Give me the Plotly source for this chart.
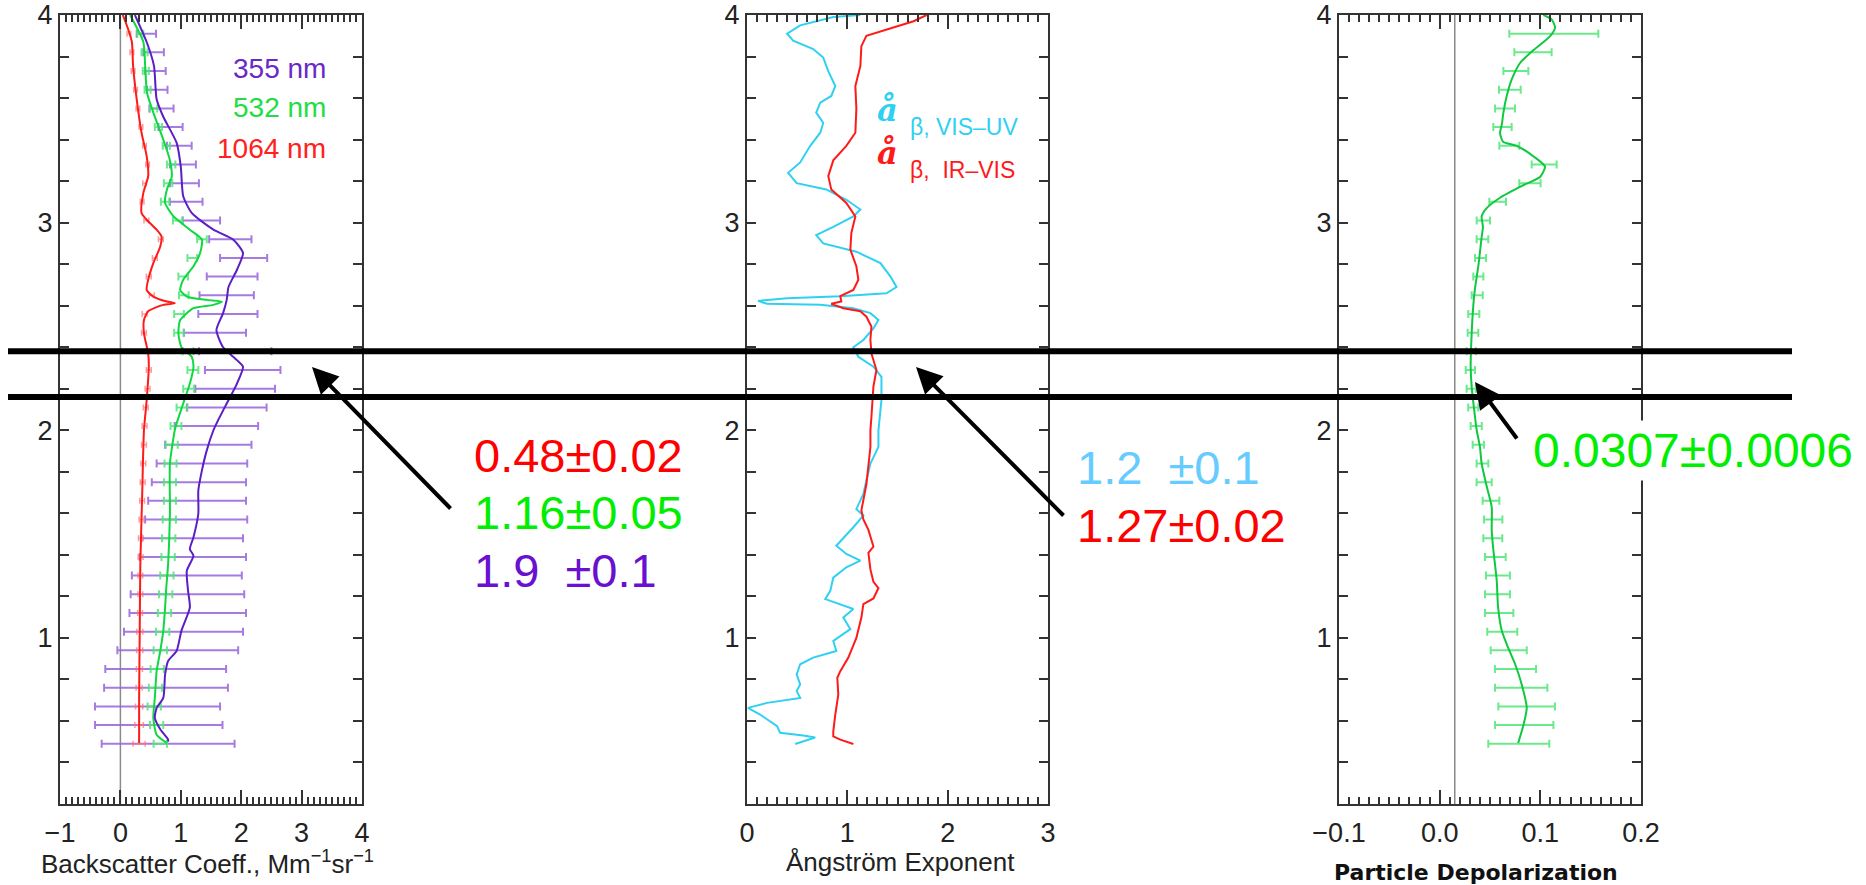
import plotly.graph_objects as go

W, H = 1866, 885

# ---------------- data ----------------
# Left panel: backscatter profiles (altitude km, value Mm^-1 sr^-1)
b355_alt = [0.50, 0.51, 0.56, 0.615, 0.663, 0.711, 0.824, 0.889, 0.937, 1.034, 1.147, 1.227, 1.324, 1.396, 1.428,
            1.485, 1.598, 1.71, 1.807, 1.903, 2.0, 2.032, 2.129, 2.225, 2.306, 2.338, 2.40, 2.483, 2.564, 2.628,
            2.69, 2.773, 2.854, 2.918, 2.966, 3.047, 3.127, 3.27, 3.385, 3.51, 3.594, 3.755, 3.87, 4.0]
b355_val = [0.79, 0.79, 0.66, 0.57, 0.60, 0.71, 0.74, 0.79, 0.93, 1.01, 1.15, 1.12, 1.10, 1.21, 1.15,
            1.21, 1.29, 1.29, 1.35, 1.43, 1.54, 1.59, 1.76, 1.93, 2.03, 1.93, 1.70, 1.59, 1.70, 1.76,
            1.79, 1.93, 2.03, 1.87, 1.54, 1.18, 1.04, 1.00, 0.93, 0.71, 0.60, 0.556, 0.435, 0.24]

b532_alt = [0.494, 0.534, 0.615, 0.711, 0.84, 0.937, 1.034, 1.147, 1.243, 1.356, 1.60, 1.84, 2.0, 2.032, 2.129,
            2.225, 2.306, 2.354, 2.40, 2.467, 2.531, 2.588, 2.604, 2.62, 2.628, 2.644, 2.676, 2.725, 2.79, 2.854,
            2.918, 2.966, 3.03, 3.095, 3.16, 3.22, 3.30, 3.40, 3.53, 3.627, 3.755, 3.87, 4.0]
b532_val = [0.77, 0.60, 0.545, 0.57, 0.60, 0.66, 0.71, 0.74, 0.76, 0.79, 0.82, 0.82, 0.90, 0.93, 1.04,
            1.15, 1.21, 1.18, 1.01, 0.96, 0.99, 1.21, 1.54, 1.68, 1.43, 1.10, 0.99, 1.04, 1.21, 1.32,
            1.35, 1.15, 0.88, 0.74, 0.77, 0.85, 0.82, 0.71, 0.545, 0.44, 0.41, 0.38, 0.16]

b1064_alt = [0.494, 0.711, 1.034, 1.356, 1.68, 2.0, 2.145, 2.306, 2.37, 2.467, 2.531, 2.573, 2.604, 2.612, 2.62,
             2.644, 2.676, 2.725, 2.805, 2.885, 2.934, 2.966, 3.014, 3.046, 3.143, 3.224, 3.32, 3.433, 3.594,
             3.755, 3.87, 3.93, 4.0]
b1064_val = [0.31, 0.31, 0.32, 0.33, 0.36, 0.39, 0.435, 0.47, 0.46, 0.39, 0.39, 0.46, 0.71, 0.90, 0.77,
             0.545, 0.435, 0.46, 0.545, 0.66, 0.68, 0.60, 0.435, 0.35, 0.38, 0.46, 0.435, 0.35, 0.27,
             0.21, 0.19, 0.13, 0.04]

# error-bar altitudes (shared by all error-bar series)
bar_alt = [0.49, 0.58, 0.67, 0.76, 0.85, 0.94, 1.03, 1.12, 1.21, 1.30, 1.39, 1.48, 1.57, 1.66, 1.75, 1.84, 1.93,
           2.02, 2.11, 2.20, 2.29, 2.38, 2.47, 2.56, 2.65, 2.74, 2.83, 2.92, 3.01, 3.10, 3.19, 3.28, 3.37, 3.46,
           3.55, 3.64, 3.73, 3.82, 3.91]
bar355_c = [0.79, 0.635, 0.615, 0.755, 0.75, 0.95, 1.045, 1.115, 1.11, 1.10, 1.20, 1.19, 1.255, 1.27, 1.30, 1.35,
            1.455, 1.59, 1.76, 1.90, 2.025, 1.90, 1.565, 1.78, 1.76, 1.85, 2.04, 1.82, 1.34, 1.09, 1.06, 1.035,
            0.975, 0.83, 0.68, 0.61, 0.58, 0.55, 0.43]
bar355_e = [1.10, 1.055, 1.035, 1.025, 1.00, 1.00, 0.985, 0.965, 0.94, 0.91, 0.88, 0.84, 0.845, 0.81, 0.78, 0.75,
            0.715, 0.69, 0.66, 0.66, 0.625, 0.60, 0.515, 0.49, 0.45, 0.42, 0.39, 0.35, 0.31, 0.27, 0.24, 0.215,
            0.205, 0.20, 0.20, 0.17, 0.17, 0.17, 0.16]
bar532_c = [0.66, 0.60, 0.56, 0.58, 0.61, 0.66, 0.70, 0.73, 0.75, 0.77, 0.79, 0.80, 0.81, 0.82, 0.82, 0.83, 0.85,
            0.92, 1.02, 1.13, 1.20, 1.12, 0.97, 0.97, 1.05, 1.04, 1.19, 1.35, 0.95, 0.74, 0.79, 0.84, 0.76, 0.63,
            0.55, 0.45, 0.42, 0.40, 0.33]
bar532_e = [0.11, 0.11, 0.11, 0.11, 0.11, 0.11, 0.11, 0.11, 0.11, 0.11, 0.11, 0.11, 0.11, 0.10, 0.10, 0.10, 0.10,
            0.09, 0.09, 0.09, 0.09, 0.09, 0.08, 0.08, 0.08, 0.08, 0.08, 0.08, 0.08, 0.07, 0.07, 0.07, 0.06, 0.06,
            0.06, 0.05, 0.05, 0.05, 0.05]
bar1064_c = [0.31, 0.31, 0.31, 0.31, 0.315, 0.32, 0.32, 0.325, 0.33, 0.33, 0.335, 0.34, 0.35, 0.36, 0.37, 0.38,
             0.39, 0.40, 0.42, 0.45, 0.47, 0.46, 0.39, 0.40, 0.52, 0.47, 0.57, 0.67, 0.43, 0.36, 0.40, 0.45, 0.40,
             0.34, 0.29, 0.25, 0.21, 0.19, 0.14]
bar1064_e = [0.10, 0.07, 0.06, 0.05, 0.05, 0.05, 0.05, 0.04, 0.04, 0.04, 0.04, 0.04, 0.04, 0.04, 0.04, 0.04, 0.04,
             0.04, 0.04, 0.04, 0.04, 0.04, 0.04, 0.04, 0.04, 0.04, 0.04, 0.04, 0.04, 0.03, 0.03, 0.03, 0.03, 0.03,
             0.03, 0.03, 0.03, 0.03, 0.03]

# Middle panel: Angstrom exponents
ang_uv_alt = [0.489, 0.506, 0.52, 0.53, 0.543, 0.575, 0.631, 0.663, 0.687, 0.711, 0.744, 0.776, 0.824, 0.873,
              0.905, 0.937, 0.985, 1.042, 1.098, 1.139, 1.163, 1.187, 1.227, 1.29, 1.34, 1.372, 1.404, 1.444,
              1.533, 1.59, 1.62, 1.694, 1.758, 1.84, 1.92, 2.0, 2.145, 2.257, 2.306, 2.354, 2.40, 2.435, 2.49,
              2.531, 2.564, 2.588, 2.604, 2.609, 2.623, 2.636, 2.646, 2.66, 2.69, 2.74, 2.805, 2.86, 2.90, 2.94,
              2.98, 3.03, 3.063, 3.11, 3.16, 3.19, 3.24, 3.29, 3.37, 3.433, 3.48, 3.53, 3.578, 3.61, 3.658, 3.73,
              3.795, 3.836, 3.876, 3.91, 3.95, 3.99, 4.0]
ang_uv_val = [0.48, 0.59, 0.68, 0.56, 0.33, 0.30, 0.13, 0.01, 0.20, 0.53, 0.495, 0.53, 0.495, 0.53,
              0.66, 0.89, 0.86, 1.03, 0.96, 1.06, 0.93, 0.78, 0.83, 0.86, 0.99, 1.13, 0.99, 0.89,
              1.06, 1.16, 1.09, 1.16, 1.19, 1.23, 1.31, 1.31, 1.34, 1.34, 1.26, 1.11, 1.06, 1.16, 1.26,
              1.31, 1.23, 1.06, 0.73, 0.20, 0.11, 0.40, 0.93, 1.39, 1.49, 1.43, 1.33, 1.09, 0.76, 0.69,
              0.86, 1.06, 1.13, 0.99, 0.79, 0.495, 0.41, 0.53, 0.63, 0.73, 0.76, 0.69, 0.73, 0.84, 0.88, 0.81,
              0.76, 0.66, 0.46, 0.40, 0.53, 0.86, 1.13]
ang_ir_alt = [0.489, 0.51, 0.526, 0.55, 0.631, 0.728, 0.808, 0.84, 0.905, 1.00, 1.098, 1.163, 1.19, 1.24, 1.27,
              1.33, 1.41, 1.44, 1.52, 1.57, 1.614, 1.74, 1.92, 2.0, 2.064, 2.21, 2.29, 2.37, 2.435, 2.50, 2.547,
              2.573, 2.588, 2.609, 2.62, 2.646, 2.676, 2.725, 2.79, 2.87, 2.95, 3.03, 3.095, 3.16, 3.224, 3.30,
              3.37, 3.433, 3.55, 3.658, 3.755, 3.85, 3.90, 3.93, 3.97, 4.0]
ang_ir_val = [1.06, 0.93, 0.86, 0.86, 0.88, 0.91, 0.90, 0.93, 1.01, 1.09, 1.14, 1.16, 1.26, 1.31, 1.26,
              1.23, 1.21, 1.26, 1.21, 1.16, 1.14, 1.19, 1.23, 1.23, 1.24, 1.26, 1.29, 1.24, 1.23, 1.24, 1.19,
              1.13, 0.96, 0.84, 0.94, 0.93, 1.06, 1.11, 1.09, 1.03, 1.04, 1.08, 0.99, 0.84, 0.81, 0.86,
              0.99, 1.08, 1.09, 1.08, 1.13, 1.14, 1.19, 1.39, 1.66, 1.79]

# Right panel: particle depolarization at 532 nm
dep_alt = [0.494, 0.582, 0.663, 0.776, 0.873, 0.953, 1.034, 1.15, 1.275, 1.44, 1.52, 1.63, 1.73, 1.84, 1.92, 2.0,
           2.064, 2.21, 2.306, 2.467, 2.60, 2.68, 2.79, 2.93, 2.98, 3.03, 3.07, 3.12, 3.18, 3.22, 3.27, 3.32,
           3.37, 3.39, 3.43, 3.48, 3.53, 3.61, 3.69, 3.77, 3.83, 3.90, 3.94, 3.98, 4.0]
dep_val = [0.078, 0.0833, 0.0865, 0.0815, 0.075, 0.068, 0.0617, 0.058, 0.0567, 0.053, 0.0517, 0.0517, 0.0467,
           0.0417, 0.040, 0.0368, 0.0351, 0.0318, 0.0308, 0.0318, 0.0334, 0.035, 0.0384, 0.0417, 0.043, 0.0417,
           0.0467, 0.060, 0.083, 0.0997, 0.1046, 0.093, 0.0765, 0.063, 0.060, 0.062, 0.0633, 0.0666, 0.0716,
           0.080, 0.093, 0.110, 0.1146, 0.111, 0.103]
dep_bar_c = [0.0786, 0.084, 0.0864, 0.081, 0.0753, 0.0686, 0.0622, 0.0591, 0.0574, 0.0579, 0.0553, 0.0528, 0.0532,
             0.051, 0.0442, 0.0425, 0.0384, 0.0363, 0.0334, 0.0314, 0.0305, 0.0314, 0.0331, 0.0339, 0.0373,
             0.0384, 0.0406, 0.0425, 0.0434, 0.0576, 0.0897, 0.1038, 0.0692, 0.0624, 0.0649, 0.0697, 0.0757,
             0.0927, 0.1134]
dep_bar_e = [0.0303, 0.029, 0.0281, 0.026, 0.0204, 0.0179, 0.0149, 0.0141, 0.0124, 0.0119, 0.0103, 0.0094,
             0.0091, 0.0083, 0.0075, 0.0058, 0.0056, 0.0055, 0.005, 0.0046, 0.0046, 0.0046, 0.0053, 0.0055,
             0.0055, 0.005, 0.0055, 0.0058, 0.0066, 0.0083, 0.0106, 0.0124, 0.0099, 0.0091, 0.0099, 0.0108,
             0.0124, 0.0185, 0.0442]

layer_alt = [2.16, 2.38]

# ---------------- styling ----------------
C_PUR, C_PUR_BAR = "#5a1ec4", "rgba(150,100,220,0.85)"
C_GRN, C_GRN_BAR = "#10d840", "rgba(80,230,120,0.85)"
C_RED, C_RED_BAR = "#ff1a1a", "rgba(255,110,110,0.7)"
C_CYAN = "#30d0f2"
FONT = "Liberation Sans"
AX = "#333333"


def px(x):
    return x / W


def py(y):
    return 1 - y / H


fig = go.Figure()


def errtrace(x, y, e, color, xa, ya, thick=2, width=4):
    return go.Scatter(x=x, y=y, mode="markers", marker=dict(size=1, color="rgba(0,0,0,0)"),
                      error_x=dict(type="data", array=e, symmetric=True, color=color,
                                   thickness=thick, width=width),
                      xaxis=xa, yaxis=ya, showlegend=False, hoverinfo="skip")


def line(x, y, color, xa, ya, w=2):
    return go.Scatter(x=x, y=y, mode="lines", line=dict(color=color, width=w, shape="spline", smoothing=0.6),
                      xaxis=xa, yaxis=ya, showlegend=False)


# left panel
fig.add_trace(errtrace(bar355_c, bar_alt, bar355_e, C_PUR_BAR, "x", "y"))
fig.add_trace(errtrace(bar532_c, bar_alt, bar532_e, C_GRN_BAR, "x", "y"))
fig.add_trace(errtrace(bar1064_c, bar_alt, bar1064_e, C_RED_BAR, "x", "y", thick=1.5, width=3))
fig.add_trace(line(b1064_val, b1064_alt, C_RED, "x", "y"))
fig.add_trace(line(b532_val, b532_alt, C_GRN, "x", "y"))
fig.add_trace(line(b355_val, b355_alt, C_PUR, "x", "y"))
# middle panel
fig.add_trace(go.Scatter(x=ang_uv_val, y=ang_uv_alt, mode="lines", line=dict(color=C_CYAN, width=2),
                         xaxis="x2", yaxis="y2", showlegend=False))
fig.add_trace(go.Scatter(x=ang_ir_val, y=ang_ir_alt, mode="lines", line=dict(color=C_RED, width=2),
                         xaxis="x2", yaxis="y2", showlegend=False))
# right panel
fig.add_trace(errtrace(dep_bar_c, bar_alt, dep_bar_e, C_GRN_BAR, "x3", "y3"))
fig.add_trace(line(dep_val, dep_alt, "#10c840", "x3", "y3"))

ydom = [py(804), py(15)]
common = dict(showline=True, linecolor=AX, linewidth=2, mirror="allticks", ticks="inside",
              tickcolor=AX, tickwidth=2, showgrid=False, zeroline=False, automargin=False,
              tickfont=dict(family=FONT, size=27, color="#222"))
xcommon = dict(common, ticklen=14, ticklabelstandoff=4,
               minor=dict(ticks="inside", ticklen=7, tickwidth=1.5, tickcolor=AX))
ycommon = dict(common, ticklen=9, range=[0.2, 4.0], tickvals=[1, 2, 3, 4], domain=ydom,
               minor=dict(ticks="inside", ticklen=9, tickwidth=1.5, tickcolor=AX, dtick=0.2, tick0=0))

fig.update_layout(
    width=W, height=H, margin=dict(l=0, r=0, t=0, b=0, autoexpand=False),
    paper_bgcolor="white", plot_bgcolor="white", showlegend=False,
    xaxis=dict(xcommon, domain=[px(60), px(362)], range=[-1, 4], dtick=1, tick0=-1, anchor="y",
               minor=dict(xcommon["minor"], dtick=0.1, tick0=0)),
    yaxis=dict(ycommon, anchor="x"),
    xaxis2=dict(xcommon, domain=[px(747), px(1048)], range=[0, 3], dtick=1, tick0=0, anchor="y2",
                minor=dict(xcommon["minor"], dtick=0.1, tick0=0)),
    yaxis2=dict(ycommon, anchor="x2"),
    xaxis3=dict(xcommon, domain=[px(1339), px(1641)], range=[-0.1, 0.2], dtick=0.1, tick0=0,
                tickformat=".1f", anchor="y3",
                minor=dict(xcommon["minor"], dtick=0.01, tick0=0)),
    yaxis3=dict(ycommon, anchor="x3"),
)

shapes = [
    dict(type="line", xref="x", yref="y domain", x0=0, x1=0, y0=0, y1=1, line=dict(color="#8a8a8a", width=1.5),
         layer="below"),
    dict(type="line", xref="x3", yref="y3 domain", x0=0.015, x1=0.015, y0=0, y1=1,
         line=dict(color="#8a8a8a", width=1.5), layer="below"),
]
for a in layer_alt:
    shapes.append(dict(type="line", xref="paper", yref="y", x0=px(8), x1=px(1792), y0=a, y1=a,
                       line=dict(color="black", width=6), layer="above"))
fig.update_layout(shapes=shapes)

ann = []


def txt(text, x, y, color, size, anchor="left", family=FONT, bg=None):
    d = dict(text=text, x=px(x), y=py(y), xref="paper", yref="paper", showarrow=False,
             xanchor=anchor, yanchor="middle", font=dict(family=family, size=size, color=color))
    if bg:
        d.update(bgcolor=bg, borderpad=3)
    ann.append(d)


# legends inside panels
txt("355 nm", 328, 68, "#6a28c8", 28, "right")
txt("532 nm", 328, 108, "#22dd44", 28, "right")
txt("1064 nm", 328, 148, "#ff2020", 28, "right")
txt("<b><i>å</i></b>", 887, 110, C_CYAN, 32, "center", family="DejaVu Serif")
txt("β, VIS–UV", 908, 127, C_CYAN, 23)
txt("<b><i>å</i></b>", 887, 153, C_RED, 32, "center", family="DejaVu Serif")
txt("β,  IR–VIS", 908, 170, C_RED, 23)

# values
txt("0.48±0.02", 472, 455, "#ff0000", 47)
txt("1.16±0.05", 472, 512, "#00ee00", 47)
txt("1.9\u00a0\u00a0±0.1", 472, 570, "#6a10d0", 47)
txt("1.2\u00a0\u00a0±0.1", 1075, 467, "#66ccff", 47)
txt("1.27±0.02", 1075, 525, "#ff0000", 47)
txt("0.0307±0.0006", 1529, 450, "#00ee00", 48, bg="white")

# axis titles
txt("Backscatter Coeff., Mm<sup>−1</sup>sr<sup>−1</sup>", 207, 862, "#222", 26, "center")
txt("Ångström Exponent", 900, 862, "#222", 26, "center")
txt("<b>Particle Depolarization</b>", 1476, 872, "#111", 22, "center", family="DejaVu Sans")

# arrows (tip, tail)
for (tx, ty), (sx, sy) in [((312, 367), (452, 510)), ((916, 367), (1065, 517)), ((1475, 382), (1518, 440))]:
    ann.append(dict(x=px(tx), y=py(ty), xref="paper", yref="paper", text="", showarrow=True,
                    ax=sx - tx, ay=sy - ty, arrowhead=2, arrowsize=1.3, arrowwidth=4, arrowcolor="black",
                    standoff=0, startstandoff=0))

fig.update_layout(annotations=ann)
fig.write_html("out.html")
